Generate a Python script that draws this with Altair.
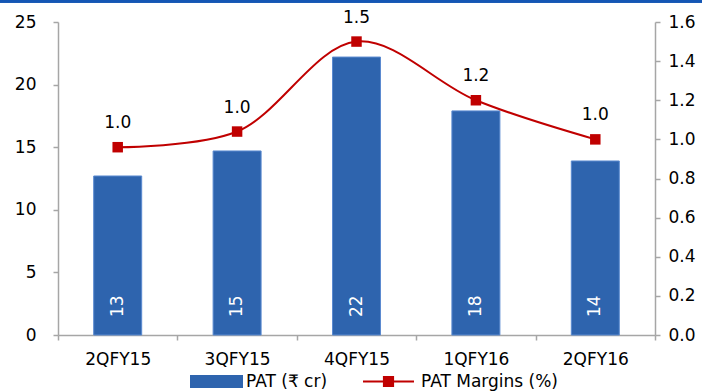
import altair as alt
import pandas as pd

# Quarterly profit after tax and margin
quarters = ["2QFY15", "3QFY15", "4QFY15", "1QFY16", "2QFY16"]
pat_cr = [12.7, 14.7, 22.2, 17.9, 13.9]
pat_margin = [0.96, 1.04, 1.50, 1.20, 1.00]

BAR_LABEL = "PAT (₹ cr)"
LINE_LABEL = "PAT Margins (%)"
BLUE = "#2E64AE"
RED = "#C00000"
AXIS_GREY = "#A6A6A6"
FONT = "DejaVu Sans"

df = pd.DataFrame({
    "quarter": quarters,
    "pat": pat_cr,
    "margin": pat_margin,
    "zero": [0] * len(quarters),
    "bar_series": [BAR_LABEL] * len(quarters),
    "line_series": [LINE_LABEL] * len(quarters),
})

x_enc = alt.X(
    "quarter:N",
    sort=quarters,
    scale=alt.Scale(paddingInner=0, paddingOuter=0),
    axis=alt.Axis(
        title=None, labelAngle=0, tickBand="extent", tickSize=5,
        labelPadding=11, labelFontSize=17, labelFont=FONT, labelColor="#000",
        domainColor=AXIS_GREY, tickColor=AXIS_GREY, domainWidth=1.5, tickWidth=1.5,
    ),
)

# legend swatches drawn as custom paths: a wide block and a line with a square marker
bar_shape = "M-1,-0.245H1V0.245H-1Z"
line_shape = "M-1,0H1M-0.18,-0.18H0.18V0.18H-0.18Z"

bar_legend = alt.Legend(
    title=None, orient="none", legendX=132, legendY=333,
    symbolType=bar_shape, symbolSize=2809, symbolStrokeWidth=0,
    symbolOpacity=1, labelFontSize=17, labelFont=FONT, labelColor="#000",
    labelOffset=3,
)
line_legend = alt.Legend(
    title=None, orient="none", legendX=304, legendY=333,
    symbolType=line_shape, symbolSize=2600, symbolStrokeWidth=2,
    symbolFillColor=RED, symbolOpacity=1,
    labelFontSize=17, labelFont=FONT, labelColor="#000", labelOffset=6,
)

left_axis = alt.Axis(
    title=None, values=[0, 5, 10, 15, 20, 25], grid=False, tickSize=5,
    labelPadding=17, labelFontSize=17, labelFont=FONT, labelColor="#000",
    domainColor=AXIS_GREY, tickColor=AXIS_GREY, domainWidth=1.5, tickWidth=1.5,
)
left_scale = alt.Scale(domain=[0, 25])

bars = alt.Chart(df).mark_bar(size=48, stroke="#5B8AD0", strokeWidth=1).encode(
    x=x_enc,
    y=alt.Y("pat:Q", scale=left_scale, axis=left_axis),
    fill=alt.Fill(
        "bar_series:N",
        scale=alt.Scale(domain=[BAR_LABEL], range=[BLUE]), legend=bar_legend,
    ),
)

# value labels written upward from the foot of each bar
bar_text = alt.Chart(df).mark_text(
    angle=270, align="left", baseline="middle", dx=18,
    fontSize=17, font=FONT, color="white",
).encode(
    x=x_enc,
    y=alt.Y("zero:Q", scale=left_scale, axis=left_axis),
    text=alt.Text("pat:Q", format=".0f"),
)

left_layer = alt.layer(bars, bar_text)

right_axis = alt.Axis(
    title=None, orient="right", values=[0, 0.2, 0.4, 0.6, 0.8, 1.0, 1.2, 1.4, 1.6],
    format=".1f", grid=False, tickSize=5, labelPadding=8,
    labelFontSize=17, labelFont=FONT, labelColor="#000",
    domainColor=AXIS_GREY, tickColor=AXIS_GREY, domainWidth=1.5, tickWidth=1.5,
)
right_scale = alt.Scale(domain=[0, 1.6])
right_y = alt.Y("margin:Q", scale=right_scale, axis=right_axis)

line = alt.Chart(df).mark_line(interpolate="catmull-rom", strokeWidth=2).encode(
    x=x_enc,
    y=right_y,
    stroke=alt.Stroke(
        "line_series:N",
        scale=alt.Scale(domain=[LINE_LABEL], range=[RED]), legend=line_legend,
    ),
)

points = alt.Chart(df).mark_point(
    shape="square", size=110, filled=True, opacity=1, color=RED
).encode(x=x_enc, y=right_y)

point_text = alt.Chart(df).mark_text(
    baseline="alphabetic", dy=-19, fontSize=17, font=FONT, color="#000"
).encode(
    x=x_enc,
    y=right_y,
    text=alt.Text("margin:Q", format=".1f"),
)

# thin blue band along the top edge of the figure
top_band = alt.Chart(df).mark_rule(color="#1456B4", strokeWidth=3).encode(
    x=alt.value(-58), x2=alt.value(644), y=alt.value(-21)
)

right_layer = alt.layer(line, points, point_text, top_band)

chart = (
    alt.layer(left_layer, right_layer)
    .resolve_scale(y="independent")
    .properties(
        width=597,
        height=313,
        padding={"left": 58, "top": 22, "right": 47, "bottom": 57},
        autosize=alt.AutoSizeParams(type="none"),
        background="white",
    )
    .configure_view(stroke=None)
)

chart.save("out.html", embed_options={"renderer": "svg", "actions": False})
